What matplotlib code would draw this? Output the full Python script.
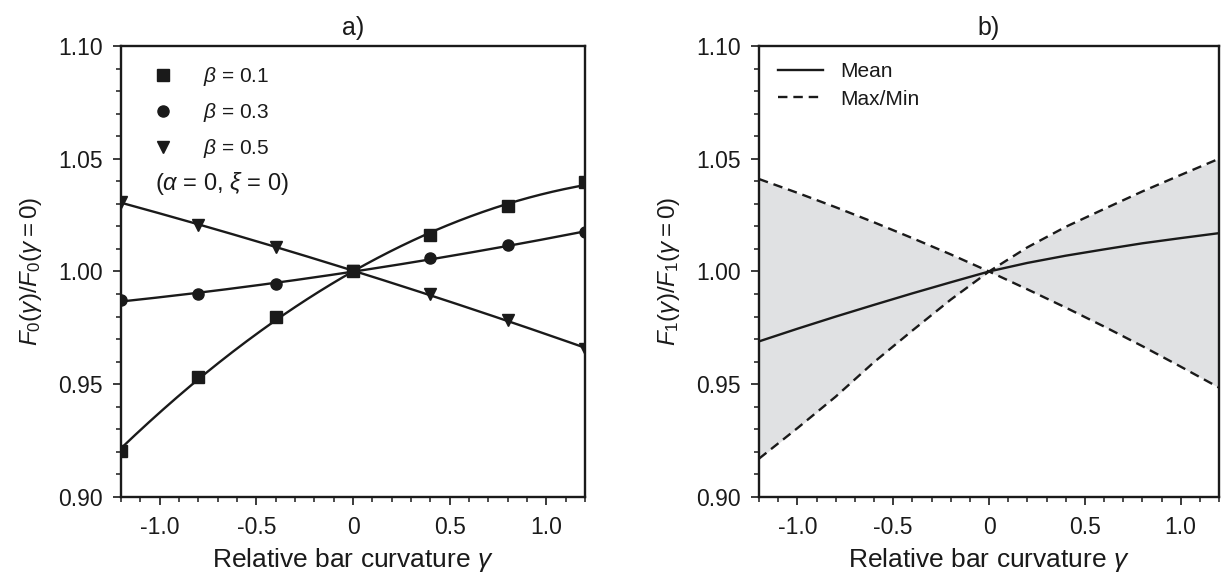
import numpy as np
import matplotlib
matplotlib.use("Agg")
import matplotlib.pyplot as plt
from matplotlib.lines import Line2D
from matplotlib.ticker import MultipleLocator

plt.rcParams['font.family'] = ['Liberation Sans', 'DejaVu Sans']
plt.rcParams['mathtext.fontset'] = 'custom'
plt.rcParams['mathtext.rm'] = 'Liberation Sans'
plt.rcParams['mathtext.it'] = 'Liberation Sans:italic'
plt.rcParams['mathtext.bf'] = 'Liberation Sans:bold'

# ---- data panel a) ----
gamma_pts = [-1.2, -0.8, -0.4, 0.0, 0.4, 0.8, 1.2]
beta01 = [0.9204, 0.9533, 0.9797, 1.0000, 1.0160, 1.0289, 1.0395]
beta03 = [0.9873, 0.9898, 0.9946, 1.0000, 1.0060, 1.0116, 1.0174]
beta05 = [1.0307, 1.0208, 1.0107, 1.0000, 0.9898, 0.9785, 0.9658]
labels_a = [r'$\beta$ = 0.1', r'$\beta$ = 0.3', r'$\beta$ = 0.5']
note_a = r'($\alpha$ = 0, $\xi$ = 0)'

# ---- data panel b) ----
gamma_b = [-1.2, -1.0, -0.8, -0.6, -0.4, -0.2, 0.0, 0.2, 0.4, 0.6, 0.8, 1.0, 1.2]
mean_b = [0.9690, 0.9746, 0.9800, 0.9852, 0.9903, 0.9952, 1.0000,
          1.0038, 1.0070, 1.0098, 1.0125, 1.0148, 1.0170]
curve_dec = [1.0410, 1.0349, 1.0285, 1.0218, 1.0148, 1.0076, 1.0000,
             0.9921, 0.9840, 0.9756, 0.9669, 0.9578, 0.9485]
curve_inc = [0.9170, 0.9305, 0.9445, 0.9598, 0.9738, 0.9875, 1.0000,
             1.0107, 1.0198, 1.0277, 1.0355, 1.0428, 1.0500]
labels_b = ['Mean', 'Max/Min']

xticks = [-1.0, -0.5, 0.0, 0.5, 1.0]
xticklabels = ['-1.0', '-0.5', '0', '0.5', '1.0']
yticks = [0.90, 0.95, 1.00, 1.05, 1.10]
yticklabels = ['0.90', '0.95', '1.00', '1.05', '1.10']

INK = '#1a1a1a'
fig = plt.figure(figsize=(12.26, 5.75), dpi=100)
axA = fig.add_axes([0.0987, 0.1357, 0.3785, 0.7843])
axB = fig.add_axes([0.6191, 0.1357, 0.3752, 0.7843])

lw = 1.7
dash = (0, (4, 2.5))
for ax in (axA, axB):
    ax.set_xlim(-1.2, 1.2)
    ax.set_ylim(0.90, 1.10)
    ax.set_xticks(xticks)
    ax.set_xticklabels(xticklabels)
    ax.set_yticks(yticks)
    ax.set_yticklabels(yticklabels)
    ax.xaxis.set_minor_locator(MultipleLocator(0.1))
    ax.yaxis.set_minor_locator(MultipleLocator(0.01))
    ax.tick_params(which='major', direction='out', length=6, width=1.2,
                   labelsize=16.5, color=INK, labelcolor=INK)
    ax.tick_params(axis='x', which='major', pad=8)
    ax.tick_params(axis='y', which='major', pad=7)
    ax.tick_params(which='minor', direction='out', length=3.5, width=1.1, color=INK)
    for s in ax.spines.values():
        s.set_linewidth(1.7)
        s.set_color(INK)
    ax.set_xlabel(r'Relative bar curvature $\gamma$', fontsize=19, color=INK, labelpad=5)

# panel a
xs = np.array(gamma_pts)
xfine = np.linspace(-1.2, 1.2, 200)
markers = ['s', 'o', 'v']
msizes = [8, 8, 8.5]
handles = []
for vals, m, ms, lab in zip([beta01, beta03, beta05], markers, msizes, labels_a):
    coef = np.polyfit(xs, np.array(vals), 2)
    axA.plot(xfine, np.polyval(coef, xfine), color=INK, lw=lw, zorder=2)
    axA.plot(xs, vals, linestyle='none', marker=m, color=INK, ms=ms, zorder=3)
    handles.append(Line2D([], [], linestyle='none', marker=m, color=INK, ms=ms, label=lab))
legA = axA.legend(handles=handles, loc='upper left', bbox_to_anchor=(0.041, 0.985),
                  frameon=False, fontsize=15, handletextpad=1.42, labelspacing=0.62,
                  borderaxespad=0.2, handlelength=1.0)
for t in legA.get_texts():
    t.set_color(INK)
axA.text(0.073, 0.696, note_a, transform=axA.transAxes, fontsize=17,
         color=INK, va='center', ha='left')
axA.set_ylabel(r'$F_0(\gamma)/F_0(\gamma = 0)$', fontsize=17.5, color=INK, labelpad=10)
axA.set_title('a)', fontsize=18, color=INK, pad=8)

# panel b
gb = np.array(gamma_b)
cd = np.array(curve_dec)
ci = np.array(curve_inc)
upper = np.maximum(cd, ci)
lower = np.minimum(cd, ci)
axB.fill_between(gb, lower, upper, color='#e0e1e3', lw=0, zorder=1)
axB.plot(gb, mean_b, color=INK, lw=lw, zorder=3)
axB.plot(gb, upper, color=INK, lw=lw, ls=dash, zorder=3)
axB.plot(gb, lower, color=INK, lw=lw, ls=dash, zorder=3)
hb = [Line2D([], [], color=INK, lw=lw, label=labels_b[0]),
      Line2D([], [], color=INK, lw=lw, ls=dash, label=labels_b[1])]
legB = axB.legend(handles=hb, loc='upper left', bbox_to_anchor=(0.0135, 0.9915),
                  frameon=False, fontsize=15, handletextpad=0.85, labelspacing=0.4,
                  borderaxespad=0.2, handlelength=2.17)
for t in legB.get_texts():
    t.set_color(INK)
axB.set_ylabel(r'$F_1(\gamma)/F_1(\gamma = 0)$', fontsize=17.5, color=INK, labelpad=10)
axB.set_title('b)', fontsize=18, color=INK, pad=8)

fig.savefig('out.png', dpi=100)
